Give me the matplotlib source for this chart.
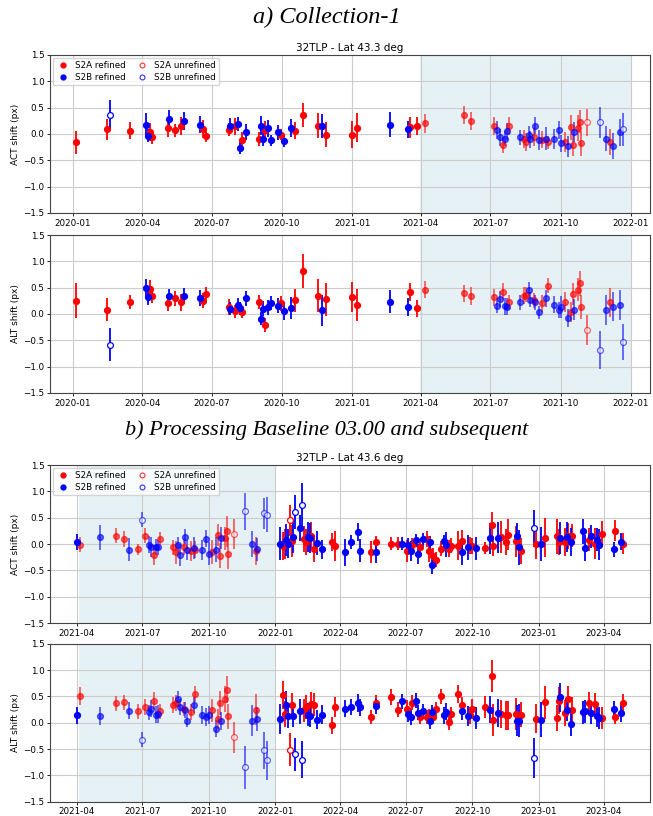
import numpy as np
import pandas as pd
import matplotlib
matplotlib.use("Agg")
import matplotlib.pyplot as plt
import matplotlib.dates as mdates
from matplotlib.lines import Line2D

# ---------------- a) Collection-1 (32TLP - Lat 43.3 deg) ----------------
# code: A = S2A, B = S2B ; lowercase = unrefined
dates_a = [
    "2020-01-05", "2020-02-14", "2020-02-19", "2020-03-16", "2020-04-06", "2020-04-09", "2020-04-11", "2020-04-14", "2020-05-04", "2020-05-06",
    "2020-05-14", "2020-05-21", "2020-05-26", "2020-06-15", "2020-06-20", "2020-06-23", "2020-07-23", "2020-07-25", "2020-07-31", "2020-08-04",
    "2020-08-07", "2020-08-10", "2020-08-15", "2020-09-01", "2020-09-03", "2020-09-06", "2020-09-09", "2020-09-13", "2020-09-16", "2020-09-26",
    "2020-09-29", "2020-10-03", "2020-10-13", "2020-10-18", "2020-10-28", "2020-11-17", "2020-11-22", "2020-11-28", "2020-12-31", "2021-01-07",
    "2021-02-20", "2021-03-15", "2021-03-17", "2021-03-27", "2021-04-06", "2021-05-27", "2021-06-06", "2021-07-05", "2021-07-10", "2021-07-13",
    "2021-07-18", "2021-07-20", "2021-07-23", "2021-07-25", "2021-08-09", "2021-08-14", "2021-08-17", "2021-08-20", "2021-08-22", "2021-08-27",
    "2021-08-29", "2021-09-02", "2021-09-06", "2021-09-12", "2021-09-14", "2021-09-22", "2021-09-29", "2021-10-01", "2021-10-07", "2021-10-11",
    "2021-10-14", "2021-10-17", "2021-10-19", "2021-10-24", "2021-10-26", "2021-10-27", "2021-11-05", "2021-11-21", "2021-11-30", "2021-12-05",
    "2021-12-08", "2021-12-18", "2021-12-21"]
code_a = "AAbABBAAAB" "AABBAAABAB" "BABABBABBB" "ABBAAABAAA" "BBAAAAAABB" "ABBABAABBA" "BBABABBBAB" "AABAAAabBA" "BBb"
act_a = [
    -0.16, 0.09, 0.37, 0.06, 0.18, -0.03, 0.04, -0.06, 0.11, 0.29,
    0.07, 0.16, 0.25, 0.18, 0.10, -0.04, 0.08, 0.16, 0.15, 0.19,
    -0.27, -0.11, 0.04, -0.09, 0.16, -0.10, 0.08, 0.11, -0.12, 0.03,
    -0.01, -0.13, 0.11, 0.06, 0.36, 0.16, 0.15, -0.01, -0.01, 0.12,
    0.18, 0.09, 0.13, 0.16, 0.20, 0.36, 0.24, 0.16, 0.07, -0.06,
    -0.21, -0.09, 0.05, 0.16, -0.06, -0.09, -0.16, -0.01, -0.10, -0.06,
    0.16, -0.11, -0.11, -0.09, -0.16, -0.09, 0.08, -0.18, -0.16, -0.23,
    0.13, -0.21, 0.03, 0.11, 0.23, -0.18, 0.22, 0.22, -0.09, -0.15,
    -0.23, 0.03, 0.09]
act_err_a = [
    0.22, 0.20, 0.27, 0.16, 0.21, 0.12, 0.17, 0.13, 0.16, 0.17,
    0.12, 0.17, 0.17, 0.16, 0.17, 0.11, 0.12, 0.15, 0.16, 0.13,
    0.11, 0.14, 0.15, 0.13, 0.18, 0.13, 0.17, 0.16, 0.10, 0.14,
    0.11, 0.12, 0.17, 0.16, 0.23, 0.23, 0.23, 0.24, 0.25, 0.27,
    0.23, 0.16, 0.20, 0.17, 0.18, 0.17, 0.17, 0.17, 0.17, 0.16,
    0.16, 0.14, 0.16, 0.17, 0.14, 0.17, 0.17, 0.16, 0.16, 0.17,
    0.16, 0.19, 0.16, 0.22, 0.13, 0.19, 0.17, 0.17, 0.19, 0.20,
    0.24, 0.21, 0.19, 0.25, 0.22, 0.24, 0.25, 0.30, 0.24, 0.25,
    0.24, 0.25, 0.31]
alt_a = [
    0.25, 0.08, -0.58, 0.23, 0.49, 0.32, 0.48, 0.34, 0.20, 0.34,
    0.30, 0.22, 0.34, 0.30, 0.25, 0.38, 0.13, 0.10, 0.05, 0.17,
    0.11, 0.03, 0.30, 0.23, -0.09, 0.10, -0.21, 0.13, 0.21, 0.16,
    0.20, 0.06, 0.12, 0.26, 0.81, 0.35, 0.07, 0.28, 0.32, 0.17,
    0.23, 0.13, 0.41, 0.11, 0.46, 0.39, 0.35, 0.32, 0.16, 0.29,
    0.42, 0.15, 0.14, 0.22, 0.22, 0.35, 0.37, 0.46, 0.27, 0.26,
    0.22, 0.03, 0.20, 0.30, 0.54, 0.18, 0.08, 0.14, 0.22, -0.08,
    0.04, 0.38, 0.08, 0.46, 0.58, 0.14, -0.30, -0.68, 0.08, 0.22,
    0.14, 0.17, -0.53]
alt_err_a = [
    0.33, 0.22, 0.32, 0.13, 0.17, 0.14, 0.17, 0.14, 0.14, 0.13,
    0.14, 0.16, 0.15, 0.15, 0.14, 0.14, 0.15, 0.12, 0.12, 0.14,
    0.12, 0.11, 0.14, 0.13, 0.12, 0.14, 0.13, 0.14, 0.14, 0.14,
    0.14, 0.17, 0.21, 0.22, 0.32, 0.31, 0.30, 0.31, 0.29, 0.31,
    0.22, 0.17, 0.17, 0.16, 0.16, 0.16, 0.17, 0.16, 0.15, 0.15,
    0.16, 0.16, 0.16, 0.14, 0.14, 0.16, 0.14, 0.14, 0.14, 0.14,
    0.14, 0.12, 0.16, 0.16, 0.15, 0.17, 0.15, 0.21, 0.19, 0.17,
    0.19, 0.21, 0.20, 0.22, 0.24, 0.23, 0.28, 0.36, 0.28, 0.27,
    0.27, 0.29, 0.34]
span_a = ("2021-03-31", "2022-01-01")
xlim_a = ("2019-12-02", "2022-01-26")

# ---------------- b) Processing Baseline 03.00 (32TLP - Lat 43.6 deg) ----------------
dates_b = [
    "2021-04-01", "2021-04-06", "2021-05-03", "2021-05-26", "2021-06-05", "2021-06-13", "2021-06-25", "2021-06-30", "2021-07-05", "2021-07-10",
    "2021-07-13", "2021-07-17", "2021-07-20", "2021-07-23", "2021-07-25", "2021-08-13", "2021-08-16", "2021-08-19", "2021-08-22", "2021-08-27",
    "2021-08-29", "2021-09-01", "2021-09-06", "2021-09-11", "2021-09-12", "2021-09-21", "2021-09-27", "2021-10-01", "2021-10-05", "2021-10-11",
    "2021-10-13", "2021-10-16", "2021-10-18", "2021-10-23", "2021-10-26", "2021-10-27", "2021-11-05", "2021-11-20", "2021-11-30", "2021-12-05",
    "2021-12-07", "2021-12-16", "2021-12-20",
    "2022-01-08", "2022-01-11", "2022-01-14", "2022-01-16", "2022-01-19", "2022-01-21", "2022-01-24", "2022-01-26", "2022-01-29", "2022-02-04",
    "2022-02-07", "2022-02-10", "2022-02-12", "2022-02-15", "2022-02-18", "2022-02-20", "2022-02-23", "2022-02-28", "2022-03-07",
    "2022-03-21", "2022-03-25", "2022-04-08", "2022-04-16", "2022-04-26", "2022-04-29", "2022-05-14", "2022-05-20", "2022-05-21", "2022-06-10",
    "2022-06-20", "2022-06-25", "2022-07-03", "2022-07-04", "2022-07-08", "2022-07-10", "2022-07-15", "2022-07-18", "2022-07-20", "2022-07-24",
    "2022-07-30", "2022-08-02", "2022-08-03", "2022-08-06", "2022-08-08", "2022-08-11", "2022-08-18", "2022-08-23", "2022-08-26", "2022-08-29",
    "2022-09-01", "2022-09-11", "2022-09-16", "2022-09-17", "2022-09-25", "2022-09-28", "2022-10-01", "2022-10-06", "2022-10-18", "2022-10-26",
    "2022-10-28", "2022-10-29", "2022-11-05", "2022-11-10", "2022-11-17", "2022-11-20", "2022-11-30", "2022-12-02", "2022-12-04", "2022-12-07",
    "2022-12-26", "2022-12-28", "2023-01-04", "2023-01-10", "2023-01-26", "2023-01-29", "2023-01-31", "2023-02-06", "2023-02-09", "2023-02-11",
    "2023-02-14", "2023-02-16", "2023-03-03", "2023-03-06", "2023-03-11", "2023-03-14", "2023-03-20", "2023-03-23", "2023-03-26", "2023-03-29",
    "2023-04-15", "2023-04-17", "2023-04-25", "2023-04-28"]
code_b = ("BABAABAbAB" "BABBAAABBA" "BBABABBBAB" "AABAAAabBA" "Bbb"
          "BAABBaABbBbAABBAABB"
          "AABBBBABAA" "ABABBABBAB" "AABBAAABBA" "AABABAABAB" "AABAAAABBA" "bABAAABABA" "BABBABABBA" "BABA")
act_b = [
    0.04, -0.01, 0.13, 0.16, 0.09, -0.11, -0.10, 0.46, 0.16, -0.01,
    -0.06, -0.20, -0.06, -0.06, 0.10, -0.06, -0.16, -0.02, -0.20, -0.05,
    0.14, -0.11, -0.13, -0.08, -0.11, -0.11, 0.10, -0.18, -0.15, -0.11,
    0.17, -0.22, 0.11, 0.11, 0.24, -0.18, 0.19, 0.62, 0.00, -0.13,
    -0.10, 0.58, 0.56,
    0.01, -0.04, 0.00, 0.08, 0.01, 0.45, 0.06, 0.13, 0.61, 0.30,
    0.75, 0.10, 0.04, 0.13, 0.11, 0.16, -0.09, 0.02, -0.10,
    0.04, -0.04, -0.16, 0.04, 0.23, -0.13, -0.15, -0.15, 0.03, 0.01,
    0.01, 0.01, -0.14, -0.01, -0.14, -0.02, 0.07, -0.19, -0.06, 0.09,
    0.10, -0.13, 0.03, -0.40, -0.23, -0.30, -0.09, 0.06, -0.01, -0.09,
    -0.03, -0.03, -0.15, 0.06, -0.06, -0.03, -0.03, -0.08, -0.07, 0.11,
    0.37, -0.03, 0.12, 0.13, 0.04, 0.18, 0.05, 0.15, -0.06, -0.13,
    0.30, 0.00, 0.00, 0.12, 0.15, 0.04, 0.12, 0.04, 0.13, 0.15,
    0.04, 0.16, 0.24, -0.07, 0.08, 0.15, 0.01, 0.08, -0.01, 0.19,
    -0.10, 0.25, 0.04, 0.01]
act_err_b = [
    0.15, 0.15, 0.24, 0.14, 0.15, 0.22, 0.10, 0.14, 0.14, 0.16,
    0.19, 0.19, 0.15, 0.14, 0.12, 0.14, 0.22, 0.15, 0.21, 0.15,
    0.14, 0.19, 0.19, 0.21, 0.16, 0.19, 0.16, 0.22, 0.22, 0.24,
    0.21, 0.24, 0.21, 0.22, 0.29, 0.30, 0.29, 0.35, 0.24, 0.27,
    0.22, 0.30, 0.34,
    0.32, 0.27, 0.28, 0.30, 0.28, 0.30, 0.30, 0.30, 0.32, 0.25,
    0.40, 0.25, 0.25, 0.28, 0.28, 0.25, 0.25, 0.22, 0.18,
    0.17, 0.28, 0.26, 0.14, 0.17, 0.22, 0.21, 0.21, 0.13, 0.13,
    0.13, 0.12, 0.21, 0.13, 0.19, 0.14, 0.12, 0.19, 0.15, 0.12,
    0.15, 0.21, 0.13, 0.17, 0.16, 0.14, 0.14, 0.11, 0.24, 0.16,
    0.14, 0.27, 0.25, 0.21, 0.24, 0.16, 0.15, 0.22, 0.11, 0.29,
    0.24, 0.19, 0.29, 0.30, 0.24, 0.30, 0.29, 0.25, 0.33, 0.24,
    0.35, 0.29, 0.33, 0.37, 0.33, 0.25, 0.30, 0.27, 0.29, 0.24,
    0.27, 0.22, 0.24, 0.25, 0.22, 0.22, 0.29, 0.22, 0.29, 0.25,
    0.14, 0.20, 0.16, 0.19]
alt_b = [
    0.14, 0.51, 0.13, 0.37, 0.39, 0.23, 0.22, -0.32, 0.30, 0.20,
    0.27, 0.42, 0.15, 0.16, 0.22, 0.34, 0.38, 0.45, 0.30, 0.26,
    0.24, 0.04, 0.20, 0.33, 0.54, 0.15, 0.11, 0.14, 0.24, -0.11,
    0.08, 0.38, 0.03, 0.45, 0.63, 0.12, -0.28, -0.85, 0.04, 0.25,
    0.07, -0.52, -0.71,
    0.07, 0.53, 0.16, 0.34, 0.12, -0.51, 0.33, 0.13, -0.60, 0.22,
    -0.70, 0.24, 0.30, 0.15, 0.12, 0.35, 0.34, 0.06, 0.15,
    -0.05, 0.29, 0.27, 0.30, 0.37, 0.29, 0.11, 0.31, 0.37, 0.49,
    0.25, 0.41, 0.27, 0.16, 0.10, 0.38, 0.42, 0.19, 0.11, 0.22,
    0.11, 0.12, 0.03, 0.20, 0.11, 0.26, 0.50, 0.14, 0.21, 0.01,
    0.16, 0.55, 0.22, 0.34, 0.13, 0.14, 0.27, 0.09, 0.30, 0.25,
    0.89, 0.05, 0.18, 0.17, 0.14, 0.14, 0.17, 0.04, 0.04, 0.15,
    -0.67, 0.08, 0.06, 0.39, 0.09, 0.42, 0.48, 0.18, 0.25, 0.46,
    -0.02, 0.24, 0.20, 0.22, 0.37, 0.19, 0.35, 0.12, 0.09, 0.09,
    0.27, 0.11, 0.19, 0.38]
alt_err_b = [
    0.16, 0.17, 0.17, 0.14, 0.14, 0.16, 0.14, 0.14, 0.15, 0.14,
    0.16, 0.16, 0.16, 0.17, 0.14, 0.15, 0.15, 0.16, 0.15, 0.14,
    0.15, 0.12, 0.15, 0.15, 0.15, 0.17, 0.17, 0.17, 0.22, 0.17,
    0.19, 0.23, 0.17, 0.25, 0.25, 0.24, 0.30, 0.41, 0.29, 0.29,
    0.22, 0.35, 0.37,
    0.28, 0.26, 0.25, 0.26, 0.22, 0.32, 0.24, 0.22, 0.31, 0.24,
    0.35, 0.22, 0.22, 0.22, 0.20, 0.24, 0.22, 0.18, 0.18,
    0.16, 0.19, 0.16, 0.15, 0.17, 0.17, 0.14, 0.15, 0.15, 0.16,
    0.15, 0.14, 0.16, 0.14, 0.14, 0.14, 0.14, 0.14, 0.14, 0.14,
    0.14, 0.15, 0.14, 0.14, 0.14, 0.14, 0.15, 0.16, 0.16, 0.14,
    0.14, 0.17, 0.17, 0.15, 0.19, 0.16, 0.19, 0.21, 0.21, 0.25,
    0.31, 0.30, 0.27, 0.27, 0.27, 0.28, 0.30, 0.29, 0.32, 0.24,
    0.38, 0.28, 0.34, 0.31, 0.24, 0.25, 0.27, 0.25, 0.21, 0.24,
    0.24, 0.25, 0.22, 0.22, 0.22, 0.22, 0.22, 0.21, 0.21, 0.21,
    0.15, 0.14, 0.17, 0.16]
span_b = ("2021-04-04", "2022-01-01")
xlim_b = ("2021-02-23", "2023-06-04")

colors = {"A": "red", "B": "blue"}
SHADE = "#e5f1f4"


def draw_panel(ax, dates, code, vals, errs, span, xlim, ylabel):
    d = pd.to_datetime(pd.Series(dates))
    vals = np.array(vals)
    errs = np.array(errs)
    sat = np.array([c.upper() for c in code])
    refined = np.array([c.isupper() for c in code])
    s0, s1 = pd.Timestamp(span[0]), pd.Timestamp(span[1])
    inside = ((d >= s0) & (d <= s1)).values

    ax.axvspan(s0, s1, color=SHADE, zorder=0, lw=0)
    for s in ["A", "B"]:
        for ref in [True, False]:
            for ins in [False, True]:
                m = (sat == s) & (refined == ref) & (inside == ins)
                if not m.any():
                    continue
                kw = dict(fmt="o", color=colors[s], ms=4.2, elinewidth=1.3,
                          capsize=0, alpha=0.6 if ins else 1.0, zorder=3)
                if not ref:
                    kw.update(mfc="white", mec=colors[s], mew=0.9)
                ax.errorbar(d[m].values, vals[m], yerr=errs[m], **kw)

    ax.set_ylim(-1.5, 1.5)
    ax.set_yticks(np.arange(-1.5, 1.51, 0.5))
    ax.set_xlim(pd.Timestamp(xlim[0]), pd.Timestamp(xlim[1]))
    ax.xaxis.set_major_locator(mdates.MonthLocator(bymonth=[1, 4, 7, 10]))
    ax.xaxis.set_major_formatter(mdates.DateFormatter("%Y-%m"))
    ax.grid(True, color="#cccccc", lw=0.8)
    ax.set_axisbelow(True)
    ax.tick_params(labelsize=6.3, length=2.5, width=0.6, pad=1.5)
    ax.set_ylabel(ylabel, fontsize=6.5, labelpad=2)
    for sp in ax.spines.values():
        sp.set_color("#444444")
        sp.set_linewidth(0.8)


def add_legend(ax):
    handles = [
        Line2D([], [], marker="o", ls="none", color="red", ms=3.5, label="S2A refined"),
        Line2D([], [], marker="o", ls="none", color="blue", ms=3.5, label="S2B refined"),
        Line2D([], [], marker="o", ls="none", mfc="white", mec="red", mew=0.8, ms=3.5, alpha=0.8, label="S2A unrefined"),
        Line2D([], [], marker="o", ls="none", mfc="white", mec="blue", mew=0.8, ms=3.5, alpha=0.8, label="S2B unrefined"),
    ]
    ax.legend(handles=handles, loc="upper left", ncol=2, fontsize=6.3,
              frameon=True, framealpha=0.8, borderpad=0.4, labelspacing=0.3,
              handlelength=1.6, handletextpad=0.6, columnspacing=1.0, borderaxespad=0.3)


fig = plt.figure(figsize=(6.53, 8.16), dpi=100)
L, W, H = 0.0766, 0.9188, 0.1936
ax1 = fig.add_axes([L, 0.739, W, H])
ax2 = fig.add_axes([L, 0.5184, W, H])
ax3 = fig.add_axes([L, 0.2365, W, H])
ax4 = fig.add_axes([L, 0.0175, W, H])

draw_panel(ax1, dates_a, code_a, act_a, act_err_a, span_a, xlim_a, "ACT shift (px)")
draw_panel(ax2, dates_a, code_a, alt_a, alt_err_a, span_a, xlim_a, "ALT shift (px)")
draw_panel(ax3, dates_b, code_b, act_b, act_err_b, span_b, xlim_b, "ACT shift (px)")
draw_panel(ax4, dates_b, code_b, alt_b, alt_err_b, span_b, xlim_b, "ALT shift (px)")
add_legend(ax1)
add_legend(ax3)
ax1.set_title("32TLP - Lat 43.3 deg", fontsize=7.5, pad=3)
ax3.set_title("32TLP - Lat 43.6 deg", fontsize=7.5, pad=3)

fig.text(0.5, 0.979, "a) Collection-1", ha="center", va="center",
         family="Liberation Serif", style="italic", fontsize=17.5)
fig.text(0.5, 0.473, "b) Processing Baseline 03.00 and subsequent", ha="center", va="center",
         family="Liberation Serif", style="italic", fontsize=16)

fig.savefig("out.png", dpi=100)
